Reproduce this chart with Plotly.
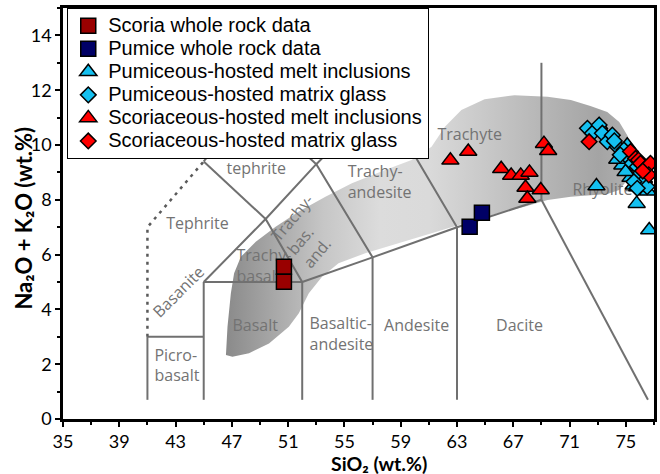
import plotly.graph_objects as go

# ---------------- data ----------------
scoria_wr_x = [50.7, 50.7]
scoria_wr_y = [5.56, 5.01]

pumice_wr_x = [63.9, 64.77]
pumice_wr_y = [7.02, 7.53]

pum_mi_x = [72.91, 75.77, 76.66, 76.57, 74.75, 75.33, 75.81, 73.10, 75.10, 74.39, 76.04, 74.98, 75.57, 76.28]
pum_mi_y = [8.50, 7.86, 6.90, 8.31, 9.26, 8.81, 8.47, 10.72, 9.99, 9.47, 8.65, 9.02, 8.53, 8.77]

pum_mg_x = [72.27, 72.62, 73.10, 73.33, 73.68, 74.04, 74.39, 74.86, 75.10, 75.45, 75.81, 76.04, 76.28, 76.51, 75.57, 75.81, 74.18, 74.60]
pum_mg_y = [10.61, 10.43, 10.73, 10.43, 10.12, 10.36, 9.94, 9.82, 9.57, 9.33, 9.21, 8.97, 8.66, 8.48, 8.66, 8.42, 10.15, 9.64]

sco_mi_x = [62.53, 63.80, 66.14, 66.85, 67.53, 68.15, 67.87, 68.95, 68.00, 69.18, 69.48]
sco_mi_y = [9.44, 9.76, 9.13, 8.89, 8.89, 9.00, 8.45, 8.36, 8.05, 10.05, 9.79]

sco_mg_x = [72.39, 75.33, 75.69, 75.90, 76.04, 76.39, 76.75, 76.63, 76.20]
sco_mg_y = [10.12, 9.76, 9.51, 9.45, 9.33, 9.15, 9.33, 8.91, 9.05]

# shaded field (outline)
field_x = [46.58, 46.69, 46.93, 47.16, 47.64, 48.70, 50.11, 51.76, 53.65, 55.53, 57.89, 59.77,
           61.19, 62.14, 63.31, 64.96, 67.09, 69.44, 71.09, 72.48, 73.68, 74.53, 75.10, 75.38,
           75.38, 75.10, 74.53, 73.68, 71.09, 69.44, 67.79, 65.90, 63.55, 61.19, 58.83, 56.48,
           54.58, 53.41, 52.47, 51.76, 51.05, 49.64, 48.22, 47.04, 46.58]
field_y = [2.34, 3.37, 4.59, 5.32, 5.92, 6.47, 7.02, 7.57, 8.11, 8.60, 9.09, 9.45,
           9.94, 10.67, 11.28, 11.67, 11.82, 11.76, 11.64, 11.42, 11.20, 10.84, 10.36, 9.82,
           9.27, 8.72, 8.36, 8.21, 8.11, 7.99, 7.75, 7.51, 7.14, 6.78, 6.41, 6.05,
           5.68, 5.19, 4.59, 3.86, 3.37, 2.76, 2.40, 2.27, 2.34]

# TAS boundaries (Le Bas et al. 1986)
tas_solid = [
    ([41, 41], [0.7, 3]),
    ([41, 45], [3, 3]),
    ([45, 45], [0.7, 5]),
    ([45, 52], [5, 5]),
    ([52, 52], [0.7, 5]),
    ([52, 57], [5, 5.9]),
    ([57, 57], [0.7, 5.9]),
    ([57, 63], [5.9, 7]),
    ([63, 63], [0.7, 7]),
    ([63, 69], [7, 8]),
    ([69, 69], [8, 13]),
    ([69, 76.57], [8, 0.7]),
    ([45, 49.4, 52], [5, 7.3, 5]),
    ([49.4, 53, 57], [7.3, 9.3, 5.9]),
    ([53, 57.6, 63], [9.3, 11.7, 7]),
    ([45, 49.4], [9.4, 7.3]),
    ([45, 48.4, 53], [9.4, 11.5, 9.3]),
]
tas_dotted = ([41, 41, 45], [3, 7, 9.4])

label_text = ["Tephrite", "tephrite", "Picro-<br>basalt", "Trachy-<br>basalt", "Basalt",
              "Basaltic-<br>andesite", "Andesite", "Dacite", "Trachy-<br>andesite",
              "Trachyte", "Rhyolite"]
label_x = [42.33, 46.62, 41.50, 47.33, 47.04, 52.52, 57.82, 65.78, 55.23, 61.61, 71.20]
label_y = [7.08, 9.09, 1.90, 5.52, 3.37, 3.05, 3.37, 3.37, 8.60, 10.33, 8.33]

rot_text = ["Basanite", "Trachy-<br>bas.<br>and."]
rot_x = [43.15, 52.45]
rot_y = [4.65, 6.85]
rot_angle = [-45, -50]

x_ticks = list(range(35, 76, 4))
y_ticks = list(range(0, 15, 2))

# ---------------- styling ----------------
LINE_COL = "#707070"
LABEL_FONT = dict(family="Open Sans", size=16, color="#737373")
OUTLINE = dict(color="black", width=1.5)

fig = go.Figure()

fig.add_trace(go.Scatter(
    x=field_x, y=field_y, mode="lines", fill="toself",
    line=dict(width=0, color="rgba(0,0,0,0)"),
    fillgradient=dict(type="horizontal", colorscale=[
        [0.0, "#8a8a8a"], [0.12, "#a8a8a8"], [0.24, "#c6c6c6"], [0.38, "#dcdcdc"],
        [0.5, "#dadada"], [0.62, "#cbcbcb"], [0.78, "#b6b6b6"], [0.92, "#a4a4a4"],
        [1.0, "#b0b0b0"]]),
    showlegend=False, hoverinfo="skip"))

for xs, ys in tas_solid:
    fig.add_trace(go.Scatter(x=xs, y=ys, mode="lines",
                             line=dict(color=LINE_COL, width=2),
                             showlegend=False, hoverinfo="skip"))
fig.add_trace(go.Scatter(x=tas_dotted[0], y=tas_dotted[1], mode="lines",
                         line=dict(color="#5a5a5a", width=2.5, dash="3px,5px"),
                         showlegend=False, hoverinfo="skip"))

fig.add_trace(go.Scatter(x=label_x, y=label_y, mode="text", text=label_text,
                         textposition="middle right", textfont=LABEL_FONT,
                         showlegend=False, hoverinfo="skip"))

def legname(s):
    return '<span style="font-size:20px">' + s + '</span>'

fig.add_trace(go.Scatter(x=scoria_wr_x, y=scoria_wr_y, mode="markers",
                         name=legname("Scoria whole rock data"),
                         marker=dict(symbol="square", size=15, color="#990000", line=OUTLINE)))
fig.add_trace(go.Scatter(x=pumice_wr_x, y=pumice_wr_y, mode="markers",
                         name=legname("Pumice whole rock data"),
                         marker=dict(symbol="square", size=15, color="#000066", line=OUTLINE)))
fig.add_trace(go.Scatter(x=pum_mi_x, y=pum_mi_y, mode="markers",
                         name=legname("Pumiceous-hosted melt inclusions"),
                         marker=dict(symbol="triangle-up", size=15, color="#14C0F0", line=OUTLINE)))
fig.add_trace(go.Scatter(x=pum_mg_x, y=pum_mg_y, mode="markers",
                         name=legname("Pumiceous-hosted matrix glass"),
                         marker=dict(symbol="diamond", size=12, color="#14C0F0", line=OUTLINE)))
fig.add_trace(go.Scatter(x=sco_mi_x, y=sco_mi_y, mode="markers",
                         name=legname("Scoriaceous-hosted melt inclusions"),
                         marker=dict(symbol="triangle-up", size=15, color="#FF0000", line=OUTLINE)))
fig.add_trace(go.Scatter(x=sco_mg_x, y=sco_mg_y, mode="markers",
                         name=legname("Scoriaceous-hosted matrix glass"),
                         marker=dict(symbol="diamond", size=12, color="#FF0000", line=OUTLINE)))

annots = []
for t, x, y, a in zip(rot_text, rot_x, rot_y, rot_angle):
    annots.append(dict(x=x, y=y, xref="x", yref="y", text=t, textangle=a,
                       showarrow=False, align="left", font=LABEL_FONT))
annots.append(dict(x=0.534, y=-0.1075, xref="paper", yref="paper", text="SiO₂ (wt.%)",
                   showarrow=False, font=dict(family="Lato", size=19.5, color="black", weight="bold"),
                   xanchor="center", yanchor="middle"))
annots.append(dict(x=-0.066, y=0.49, xref="paper", yref="paper", text="Na₂O + K₂O (wt.%)",
                   textangle=-90, showarrow=False,
                   font=dict(family="Lato", size=22, color="black", weight="bold"),
                   xanchor="center", yanchor="middle"))

axis_common = dict(showgrid=False, zeroline=False, showline=True, linecolor="black",
                   linewidth=2.5, mirror=True, ticks="outside", ticklen=5, tickwidth=1.5,
                   tickcolor="black", tickfont=dict(family="Lato", size=18, color="black"))

fig.update_layout(
    width=660, height=474,
    margin=dict(l=63, r=3, t=8, b=55),
    paper_bgcolor="white", plot_bgcolor="white",
    xaxis=dict(range=[35, 77], tickvals=x_ticks,
               minor=dict(dtick=2, tick0=35, ticks="outside", ticklen=3, tickcolor="black", tickwidth=1.5),
               **axis_common),
    yaxis=dict(range=[0, 15], tickvals=y_ticks,
               minor=dict(dtick=1, tick0=0, ticks="outside", ticklen=3, tickcolor="black", tickwidth=1.5),
               **axis_common),
    legend=dict(x=0.0067, y=1, xanchor="left", yanchor="top", bgcolor="white",
                bordercolor="black", borderwidth=1.3,
                font=dict(family="Liberation Sans", size=15.4, color="black")),
    annotations=annots,
    showlegend=True,
)

fig.write_html("out.html")
